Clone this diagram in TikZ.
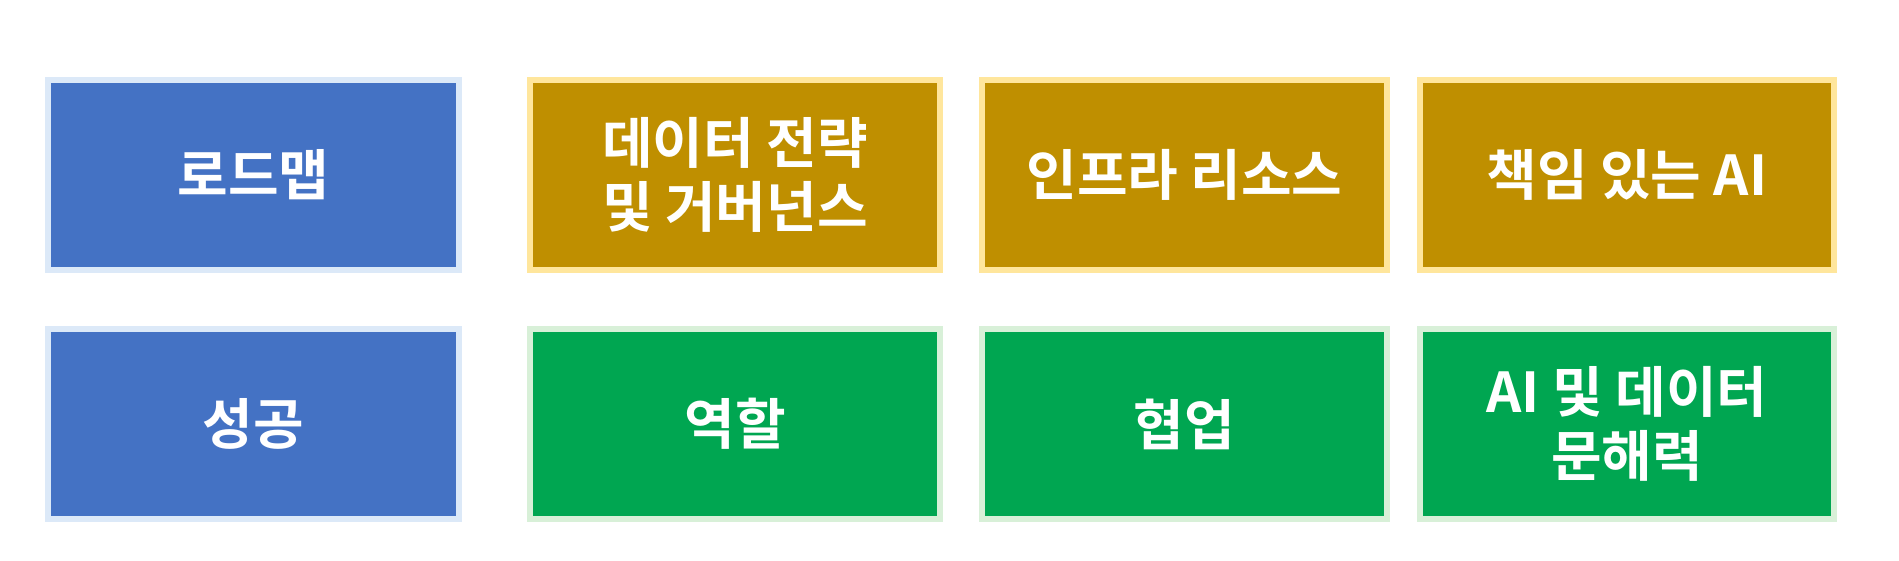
\documentclass[tikz,border=0pt]{standalone}
\usepackage{fontspec}
\newfontfamily\kr{Noto Sans CJK KR}[BoldFont={Noto Sans CJK KR Bold}]
\usetikzlibrary{positioning}
\definecolor{roadblue}{HTML}{4472C4}
\definecolor{roadedge}{HTML}{DCE9F8}
\definecolor{govgold}{HTML}{BF8F00}
\definecolor{govedge}{HTML}{FFE69C}
\definecolor{peoplegreen}{HTML}{00A651}
\definecolor{peopleedge}{HTML}{D8F0D8}
\tikzset{
  tile/.style={draw, line width=6pt, minimum height=190pt, align=center,
    text=white, font=\kr\bfseries\fontsize{55}{64}\selectfont},
  bluetile/.style={tile, fill=roadblue, draw=roadedge},
  goldtile/.style={tile, fill=govgold, draw=govedge},
  greentile/.style={tile, fill=peoplegreen, draw=peopleedge}
}
\begin{document}
\begin{tikzpicture}[x=1pt,y=-1pt]
			\useasboundingbox (0,0) rectangle (1899,560);
			
			%%% top row
			\node[bluetile, minimum width=411pt] (roadmap) at (253.5,175) {로드맵};
			\node[goldtile, minimum width=410pt] (datagov) at (735,175) {데이터 전략\\및 거버넌스};
			\node[goldtile, minimum width=405pt] (infra) at (1184.5,175) {인프라 리소스};
			\node[goldtile, minimum width=414pt] (respai) at (1627,175) {책임 있는 AI};
			
			%%% bottom row
			\node[bluetile, minimum width=411pt] (success) at (253.5,424) {성공};
			\node[greentile, minimum width=410pt] (roles) at (735,424) {역할};
			\node[greentile, minimum width=405pt] (collab) at (1184.5,424) {협업};
			\node[greentile, minimum width=414pt] (literacy) at (1627,424) {AI 및 데이터\\문해력};
\end{tikzpicture}
\end{document}
